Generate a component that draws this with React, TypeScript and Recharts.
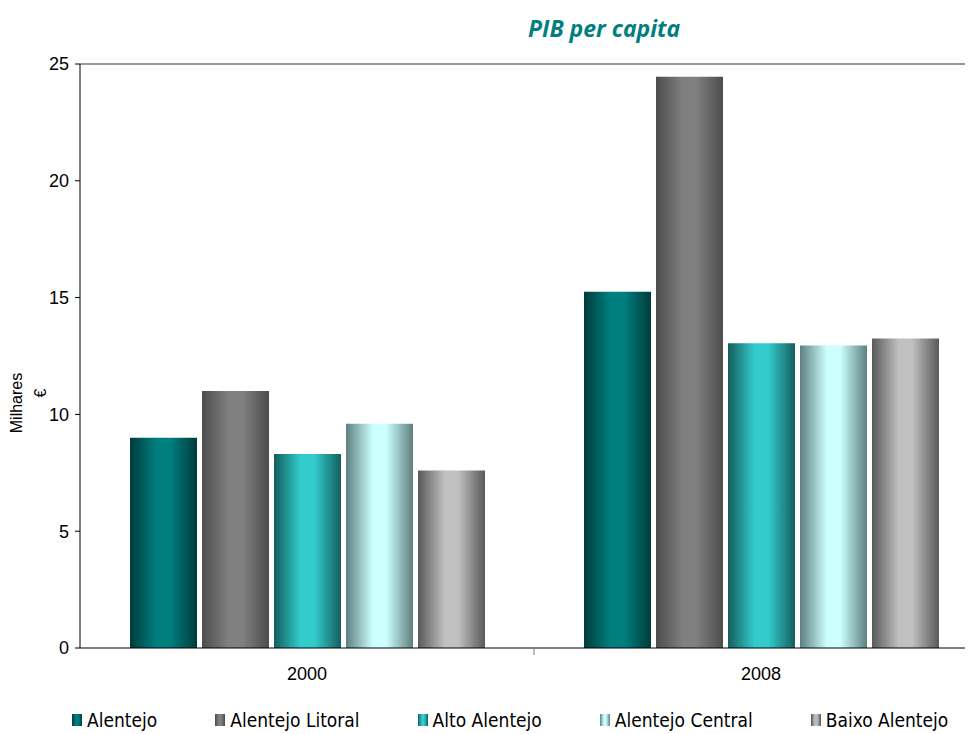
import React from "react";
import { BarChart, Bar, XAxis, YAxis, ReferenceLine } from "recharts";

const categories = ["2000", "2008"];
const alentejo = [9.0, 15.25];
const alentejoLitoral = [11.0, 24.45];
const altoAlentejo = [8.3, 13.05];
const alentejoCentral = [9.6, 12.95];
const baixoAlentejo = [7.6, 13.25];
const yTicks = [0, 5, 10, 15, 20, 25];

const seriesNames = [
  "Alentejo",
  "Alentejo Litoral",
  "Alto Alentejo",
  "Alentejo Central",
  "Baixo Alentejo",
];

const data = categories.map((c, i) => ({
  name: c,
  s0: alentejo[i],
  s1: alentejoLitoral[i],
  s2: altoAlentejo[i],
  s3: alentejoCentral[i],
  s4: baixoAlentejo[i],
}));

// [edge, center]
const shades = [
  ["#003b3b", "#007f7f"],
  ["#4d4d4d", "#808080"],
  ["#145e5e", "#33cccc"],
  ["#5e7f7f", "#ccffff"],
  ["#595959", "#c0c0c0"],
];

const W = 1000;
const H = 726;
const HALF_BAND = 227;

const XTick = (props: any) => {
  const { x, y, payload } = props;
  return (
    <g>
      <line x1={x + HALF_BAND} y1={y} x2={x + HALF_BAND} y2={y + 7} stroke="#777" />
      <text
        x={x}
        y={y + 27}
        textAnchor="middle"
        dominantBaseline="middle"
        fontSize={18}
        fill="#000"
        fontFamily="Liberation Sans, Arial, sans-serif"
      >
        {payload.value}
      </text>
    </g>
  );
};

const YLabel = () => (
  <g fontFamily="Liberation Sans, Arial, sans-serif" fontSize={16} fill="#000">
    <text x={10} y={395} textAnchor="middle" dominantBaseline="middle" transform="rotate(-90 10 395)">
      Milhares
    </text>
    <text x={34} y={385} textAnchor="middle" dominantBaseline="middle" transform="rotate(-90 34 385)">
      €
    </text>
  </g>
);

const swatch = (i: number) =>
  `linear-gradient(to right, ${shades[i][0]} 0%, ${shades[i][1]} 40%, ${shades[i][1]} 60%, ${shades[i][0]} 100%)`;

export default function App() {
  return (
    <div style={{ position: "relative", width: W, height: H }}>
      <div
        style={{
          position: "absolute",
          left: 520,
          top: 4,
          fontFamily: "'Open Sans', sans-serif",
          fontWeight: 700,
          fontStyle: "italic",
          fontSize: 23,
          color: "#007f7f",
        }}
      >
        PIB per capita
      </div>
      <BarChart
        width={W}
        height={H}
        data={data}
        margin={{ top: 56, right: 20, bottom: 46, left: 0 }}
        barCategoryGap={50}
        barGap={5}
      >
        <defs>
          {shades.map((s, i) => (
            <linearGradient key={i} id={`g${i}`} x1="0" y1="0" x2="1" y2="0">
              <stop offset="0%" stopColor={s[0]} />
              <stop offset="40%" stopColor={s[1]} />
              <stop offset="60%" stopColor={s[1]} />
              <stop offset="100%" stopColor={s[0]} />
            </linearGradient>
          ))}
        </defs>
        <XAxis
          dataKey="name"
          height={40}
          tickLine={false}
          tickSize={0}
          tickMargin={0}
          axisLine={{ stroke: "#000" }}
          tick={<XTick />}
        />
        <YAxis
          width={72}
          domain={[0, 25]}
          ticks={yTicks}
          interval={0}
          tickSize={5}
          tickMargin={6}
          axisLine={{ stroke: "#000" }}
          tickLine={{ stroke: "#000" }}
          tick={{ fill: "#000", fontSize: 18, fontFamily: "Liberation Sans, Arial, sans-serif" }}
          label={<YLabel />}
        />
        <ReferenceLine y={25} stroke="#999" strokeWidth={2} />
        {seriesNames.map((n, i) => (
          <Bar key={n} dataKey={`s${i}`} name={n} fill={`url(#g${i})`} isAnimationActive={false} />
        ))}
      </BarChart>
      <div
        style={{
          position: "absolute",
          left: 64,
          top: 701,
          display: "flex",
          gap: 58,
          fontFamily: "'Liberation Sans Narrow', 'DejaVu Sans Condensed', sans-serif",
          fontSize: 19,
          lineHeight: "22px",
          color: "#000",
          whiteSpace: "nowrap",
        }}
      >
        {seriesNames.map((n, i) => (
          <div key={n} style={{ display: "flex", alignItems: "center" }}>
            <span
              style={{
                display: "inline-block",
                width: 10,
                height: 12,
                marginRight: 5,
                background: swatch(i),
              }}
            />
            {n}
          </div>
        ))}
      </div>
    </div>
  );
}
